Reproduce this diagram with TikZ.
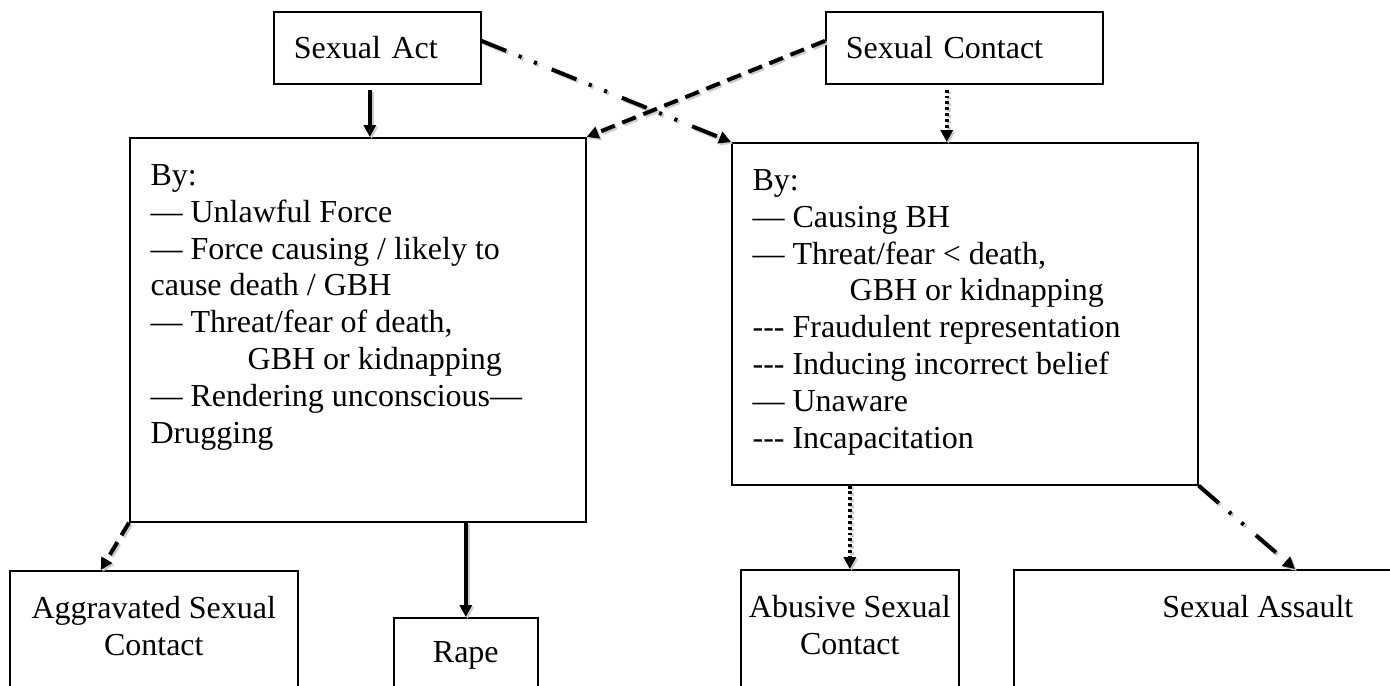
\documentclass[tikz,border=0pt]{standalone}
\usepackage{fontspec}
\setmainfont{Liberation Serif}
\usetikzlibrary{arrows.meta,positioning,calc}

\begin{document}
\begin{tikzpicture}[x=0.375pt,y=-0.375pt,
       font=\fontsize{12pt}{13.8pt}\selectfont,
       box/.style={draw,line width=0.6pt,anchor=north west,inner sep=0pt},
       topbox/.style={box,minimum height=27pt,inner xsep=7.5pt,align=left},
       listtext/.style={anchor=north west,inner sep=0pt,align=left},
       casetext/.style={anchor=north,inner sep=0pt,align=center},
       link/.style={line width=1.5pt,-{Triangle[length=4.5pt,width=4.5pt]},
         dash pattern=#1,
         preaction={draw=black!20,line width=1.5pt,dash pattern=#1,
           transform canvas={shift={(0.7pt,-0.7pt)}}}},
       solidlink/.style={link={on 400pt off 0pt}},
       dashlink/.style={link={on 5.5pt off 3pt}},
       dotlink/.style={link={on 1.1pt off 1.1pt}},
       dashdotlink/.style={link={on 10pt off 5pt on 1.2pt off 5pt on 1.2pt off 6pt}}]
       \useasboundingbox (0,0) rectangle (1390,685);

       \coordinate (AC) at (273,11);
       \coordinate (CO) at (825,11);
       \coordinate (FO) at (129,137);
       \coordinate (ME) at (731,142);

       \coordinate (AG) at (9,570);
       \coordinate (RA) at (393,617);
       \coordinate (AB) at (740,569);
       \coordinate (AS) at (1013,569);

       % top boxes
       \node[topbox,text width=62.6pt,minimum width=77.6pt] (act) at (AC) {Sexual Act};
       \node[topbox,text width=88.9pt,minimum width=103.9pt] (contact) at (CO) {Sexual Contact};

       % middle boxes
       \node[box,minimum width=171pt,minimum height=144pt] (force) at (FO) {};
       \node[listtext] (forcetext) at ([xshift=7.9pt,yshift=-10.1pt]force.north west) {By:\\
         — Unlawful Force\\
         — Force causing / likely to\\
         cause death / GBH\\
         — Threat/fear of death,\\
         \hspace*{36.4pt}GBH or kidnapping\\
         — Rendering unconscious—\\
         Drugging};

       \node[box,minimum width=174.75pt,minimum height=128.25pt] (means) at (ME) {};
       \node[listtext] (meanstext) at ([xshift=7.9pt,yshift=-10.1pt]means.north west) {By:\\
         — Causing BH\\
         — Threat/fear < death,\\
         \hspace*{36.4pt}GBH or kidnapping\\
         -{}-{}- Fraudulent representation\\
         -{}-{}- Inducing incorrect belief\\
         — Unaware\\
         -{}-{}- Incapacitation};

       % bottom boxes
       \node[box,minimum width=108pt,minimum height=52.5pt] (aggravated) at (AG) {};
       \node[casetext] (aggravatedtext) at ([yshift=-9.8pt]aggravated.north) {Aggravated Sexual\\Contact};
       \node[box,minimum width=54pt,minimum height=33.75pt] (rape) at (RA) {};
       \node[casetext] (rapetext) at ([yshift=-9.1pt]rape.north) {Rape};
       \node[box,minimum width=81.75pt,minimum height=52.5pt] (abusive) at (AB) {};
       \node[casetext] (abusivetext) at ([yshift=-9.8pt]abusive.north) {Abusive Sexual\\Contact};
       \node[box,minimum width=150pt,minimum height=52.5pt] (assault) at (AS) {};
       \node[casetext] (assaulttext) at ([xshift=16.5pt,yshift=-9.8pt]assault.north) {Sexual Assault};

       % links
       \draw[solidlink] ([xshift=-2.8pt,yshift=-1.9pt]act.south) -- ([xshift=-2.8pt]act.south |- force.north);
       \draw[dashdotlink] ([yshift=2.6pt]act.east) -- (means.north west);
       \draw[dashlink] ([yshift=2.6pt]contact.west) -- (force.north east);
       \draw[dotlink] ([xshift=-6.6pt,yshift=-1.9pt]contact.south) -- ([xshift=-6.6pt]contact.south |- means.north);

       \draw[dashlink] (force.south west) -- ([xshift=-19.9pt]aggravated.north);
       \draw[solidlink] (rape.north |- force.south) -- (rape.north);
       \draw[dotlink] (abusive.north |- means.south) -- (abusive.north);
       \draw[dashdotlink] (means.south east) -- ([xshift=105.75pt]assault.north west);
     \end{tikzpicture}
\end{document}
